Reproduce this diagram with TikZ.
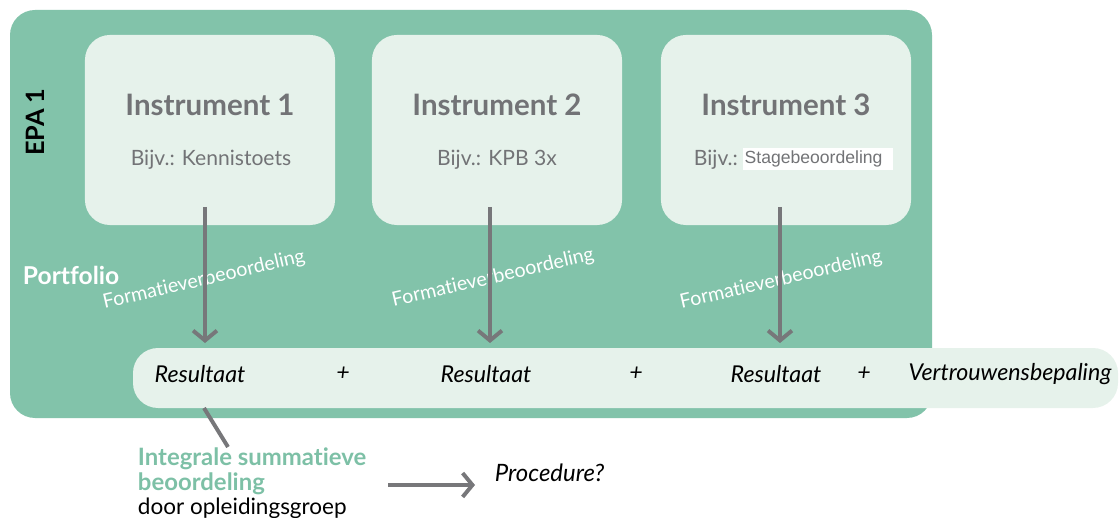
\documentclass[tikz,border=0pt]{standalone}
\usepackage{fontspec}
\setmainfont{Lato}[Ligatures={NoCommon}]
\newfontfamily\arialfont{Liberation Sans}
\usetikzlibrary{arrows.meta,positioning}
\definecolor{epagreen}{HTML}{82C3AA}
\definecolor{boxlight}{HTML}{E6F2EB}
\definecolor{titlegray}{HTML}{727376}
\definecolor{arrowgray}{HTML}{77777A}
\definecolor{labelgreen}{HTML}{7DC0A6}
\begin{document}
\begin{tikzpicture}[x=0.025cm,y=-0.025cm,
    instr/.style={fill=boxlight,rounded corners=0.625cm,minimum width=6.25cm,minimum height=4.75cm},
    title/.style={font=\fontsize{21}{25}\selectfont\bfseries,text=titlegray},
    sub/.style={font=\fontsize{15}{18}\selectfont,text=titlegray},
    flow/.style={draw=arrowgray,line width=2.8pt,-{Straight Barb[length=7pt,width=17pt]}},
    formatief/.style={font=\fontsize{14}{16}\selectfont,text=white,rotate=13},
    res/.style={font=\fontsize{16.5}{19}\selectfont\itshape},
    summ/.style={anchor=base west,font=\fontsize{17}{20}\selectfont\bfseries,text=labelgreen}]
  \useasboundingbox (0,0) rectangle (1120,518);
  % EPA block
  \fill[epagreen,rounded corners=0.625cm] (10,10) rectangle (932,418);
  \node[rotate=90,font=\fontsize{18}{22}\selectfont\bfseries] (epa) at (35,122) {EPA 1};
  \node[anchor=west,text=white,font=\fontsize{17.5}{21}\selectfont\bfseries] (portfolio) at (18,275) {Portfolio};
  % instruments
  \node[instr] (box1) at (210,130) {};
  \node[instr] (box2) at (497,130) {};
  \node[instr] (box3) at (786,130) {};
  \node[title] (t1) at (210,105) {Instrument 1};
  \node[title] (t2) at (497,105) {Instrument 2};
  \node[title] (t3) at (786,105) {Instrument 3};
  \node[sub] (s1) at (211,160) {Bijv.: Kennistoets};
  \node[sub] (s2) at (497,160) {Bijv.: KPB 3x};
  \node[sub,anchor=west] (s3) at (689,160) {Bijv.:};
  \node[fill=white,anchor=west,inner sep=1pt,minimum height=0.55cm,
    font=\arialfont\fontsize{12.5}{15}\selectfont,text=titlegray] (stage) at (743,159) {Stagebeoordeling\,\,\,};
  % result bar
  \fill[boxlight,rounded corners=0.625cm] (133,348) rectangle (1118,408);
  \node[res] (r1) at (200,374) {Resultaat};
  \node[res] (p1) at (343,374) {+};
  \node[res] (r2) at (486,374) {Resultaat};
  \node[res] (p2) at (636,374) {+};
  \node[res] (r3) at (776,374) {Resultaat};
  \node[res] (p3) at (864,374) {+};
  \node[res] (vb) at (1010,374) {Vertrouwensbepaling};
  % formative labels and arrows
  \node[formatief] (f1) at (204,280) {Formatieverbeoordeling};
  \node[formatief] (f2) at (493,278) {Formatieverbeoordeling};
  \node[formatief] (f3) at (781,280) {Formatieverbeoordeling};
  \coordinate (a1) at (205,207);
  \coordinate (a2) at (490,207);
  \coordinate (a3) at (780,207);
  \draw[flow] (a1) -- (a1 |- 0,343);
  \draw[flow] (a2) -- (a2 |- 0,343);
  \draw[flow] (a3) -- (a3 |- 0,343);
  % summative judgement
  \node[summ] (isb) at (133,465) {Integrale summatieve};
  \node[summ] (beo) at (133,490) {beoordeling};
  \node[anchor=base west,font=\fontsize{16}{19}\selectfont] (door) at (133,514) {door opleidingsgroep};
  \coordinate (barfoot) at (204,408);
  \coordinate (linkend) at (228,447);
  \draw[arrowgray,line width=2.8pt] (barfoot) -- (linkend);
  \node[anchor=west,res,font=\fontsize{17}{20}\selectfont\itshape] (proc) at (490,473) {Procedure?};
  \coordinate (pstart) at (388,485);
  \draw[flow] (pstart) -- (pstart -| 475,0);
\end{tikzpicture}
\end{document}
